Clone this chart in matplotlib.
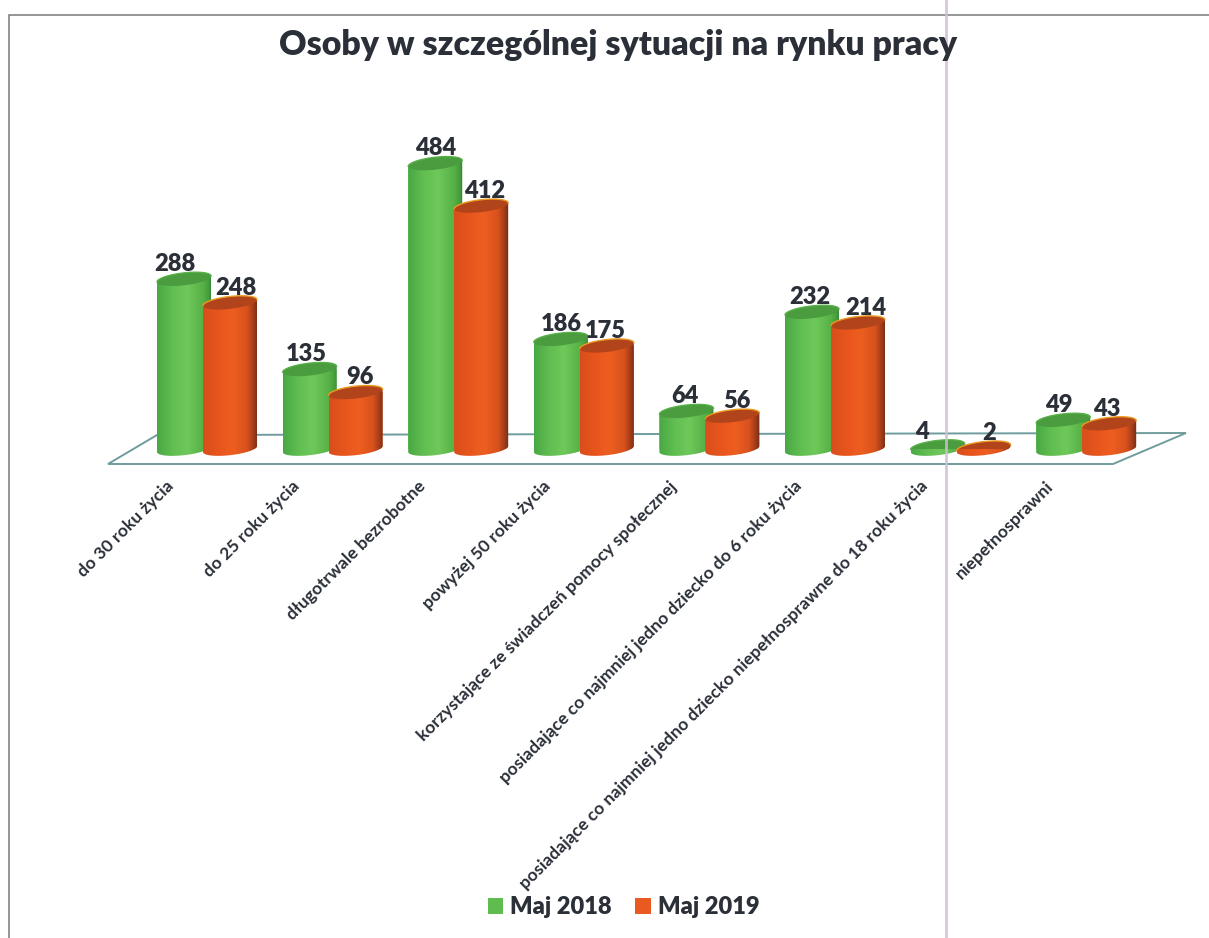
import numpy as np
import matplotlib
matplotlib.use("Agg")
import matplotlib.pyplot as plt
from matplotlib.colors import LinearSegmentedColormap
from matplotlib.patches import Polygon, Patch
from matplotlib.transforms import ScaledTranslation

# ---- data ----
categories = [
    "do 30 roku życia",
    "do 25 roku życia",
    "długotrwale bezrobotne",
    "powyżej 50 roku życia",
    "korzystające ze świadczeń pomocy społecznej",
    "posiadające co najmniej jedno dziecko do 6 roku życia",
    "posiadające co najmniej jedno dziecko niepełnosprawne do 18 roku życia",
    "niepełnosprawni",
]
maj_2018 = [288, 135, 484, 186, 64, 232, 4, 49]
maj_2019 = [248, 96, 412, 175, 56, 214, 2, 43]
series_names = ["Maj 2018", "Maj 2019"]
title = "Osoby w szczególnej sytuacji na rynku pracy"

# ---- style / layout ----
W, H = 1209, 938
DPI = 100
plt.rcParams["font.family"] = ["Lato", "DejaVu Sans"]
TEXT = "#2a2f38"
HEAVY = "heavy"
fig = plt.figure(figsize=(W / DPI, H / DPI), dpi=DPI, facecolor="white")


def px_axes(left, top, right, bottom, z):
    return fig.add_axes([left / W, 1 - bottom / H, (right - left) / W, (bottom - top) / H], zorder=z)


# background layer in page pixels: scan frame and chart floor
bg = px_axes(0, 0, W, H, 0)
bg.set_xlim(0, W)
bg.set_ylim(H, 0)
bg.axis("off")
bg.plot([9, 9, W], [H, 15, 15], color="#77797c", lw=1.1, solid_joinstyle="miter")
bg.add_patch(Polygon([(108, 464), (157, 435), (1186, 433), (1113, 464)], closed=True,
                     fc="white", ec="#6f9c9c", lw=1.4))

# chart axes: value 0 sits on the cylinder base, categories are 125.6 px apart
ax = px_axes(144.2, 154, 1149, 449, 1)
ax.patch.set_alpha(0)
BAR_W = 0.43
OFFS = 0.183
CAP_H = 21.0   # in value units
CAP_TILT = 5.0

green_cmap = LinearSegmentedColormap.from_list(
    "g", [(0, "#48a843"), (0.3, "#62bf52"), (0.55, "#6fc85a"), (0.85, "#55b045"), (0.95, "#429c3a"), (1, "#2f7d35")])
red_cmap = LinearSegmentedColormap.from_list(
    "r", [(0, "#d94e1c"), (0.3, "#e8561d"), (0.55, "#ee5e20"), (0.8, "#d8521d"), (0.92, "#a33c1a"), (1, "#6e2c17")])
cap_colors = ["#4a9c3e", "#b2441b"]
rim_colors = ["#58b049", "#eb9a22"]
grad = np.linspace(0, 1, 256).reshape(1, -1)


def cylinder(cx, v):
    t = np.linspace(np.pi, 2 * np.pi, 60)
    low = np.c_[cx + BAR_W / 2 * np.cos(t), CAP_H / 2 * np.sin(t) + CAP_TILT * np.cos(t)]
    t2 = np.linspace(0, np.pi, 60)
    up = np.c_[cx + BAR_W / 2 * np.cos(t2), v + CAP_H / 2 * np.sin(t2) + CAP_TILT * np.cos(t2)]
    return np.vstack([low, up])


def cap(cx, v):
    t = np.linspace(0, 2 * np.pi, 120)
    return np.c_[cx + BAR_W / 2 * np.cos(t), v + CAP_H / 2 * np.sin(t) + CAP_TILT * np.cos(t)]


x = np.arange(len(categories))
for s, (vals, cmap) in enumerate(zip([maj_2018, maj_2019], [green_cmap, red_cmap])):
    pos = x - OFFS if s == 0 else x + OFFS
    z = 3 + 2 * s
    bars = ax.bar(pos, vals, BAR_W, color=cmap(0.4), linewidth=0, zorder=z)
    for rect, cx, v in zip(bars, pos, vals):
        body = Polygon(cylinder(cx, v), closed=True, fc="none", ec="none", transform=ax.transData, zorder=z)
        ax.add_patch(body)
        rect.set_clip_path(body)
        im = ax.imshow(grad, cmap=cmap, aspect="auto", zorder=z, interpolation="bilinear",
                       extent=[cx - BAR_W / 2, cx + BAR_W / 2, -CAP_H, v + CAP_H])
        im.set_clip_box(fig.bbox)
        im.set_clip_path(body)
        ring = cap(cx, v)
        ax.add_patch(Polygon(ring, closed=True, fc=cap_colors[s], ec="none", zorder=z + 0.5))
        ax.plot(ring[:60, 0], ring[:60, 1], color=rim_colors[s], lw=1.0, zorder=z + 0.6, clip_on=False)

ax.set_xlim(-0.5, len(categories) - 0.5)
ax.set_ylim(0, 500)
for sp in ax.spines.values():
    sp.set_visible(False)
ax.set_yticks([])
ax.set_xticks(x, categories, rotation=45, ha="right", rotation_mode="anchor",
              fontsize=12.6, fontweight="bold", color=TEXT)
ax.tick_params(axis="x", length=0, pad=21)
label_shift = ScaledTranslation(-41 / DPI, 0, fig.dpi_scale_trans)
for lab in ax.get_xticklabels():
    lab.set_transform(lab.get_transform() + label_shift)

# data labels; offsets in px copy the hand-placed look of the original
dx_2018 = [-9, -3, 0, 0, -1, -2, -16, -4]
dx_2019 = [6, 4, 3, -1, 5, 8, 6, -2]
for vals, dxs, off in ((maj_2018, dx_2018, -OFFS), (maj_2019, dx_2019, OFFS)):
    for xi, v, dx in zip(x, vals, dxs):
        ax.annotate(str(v), (xi + off, v), xytext=(dx * 72 / DPI, 15 * 72 / DPI), textcoords="offset points",
                    ha="center", va="center", fontsize=17, fontweight=HEAVY, color=TEXT, zorder=10)

fig.text(618.5 / W, 1 - 45 / H, title, ha="center", va="center", fontsize=24.4, fontweight=HEAVY, color=TEXT, zorder=5)

handles = [Patch(fc="#5fbd50", ec="none"), Patch(fc="#e85a20", ec="none")]
fig.legend(handles, series_names, loc="center", bbox_to_anchor=(623.5 / W, 1 - 907 / H), ncol=2, frameon=False,
           prop={"size": 17, "weight": HEAVY}, labelcolor=TEXT, handlelength=0.65, handleheight=0.65,
           handletextpad=0.3, columnspacing=1.0, borderpad=0, borderaxespad=0)

# scan fold line in front of everything
top = px_axes(0, 0, W, H, 4)
top.set_xlim(0, W)
top.set_ylim(H, 0)
top.axis("off")
top.patch.set_alpha(0)
top.plot([946, 946], [0, H], color="#cdbfd3", lw=2.0, alpha=0.85)

fig.savefig("out.png", dpi=DPI)
